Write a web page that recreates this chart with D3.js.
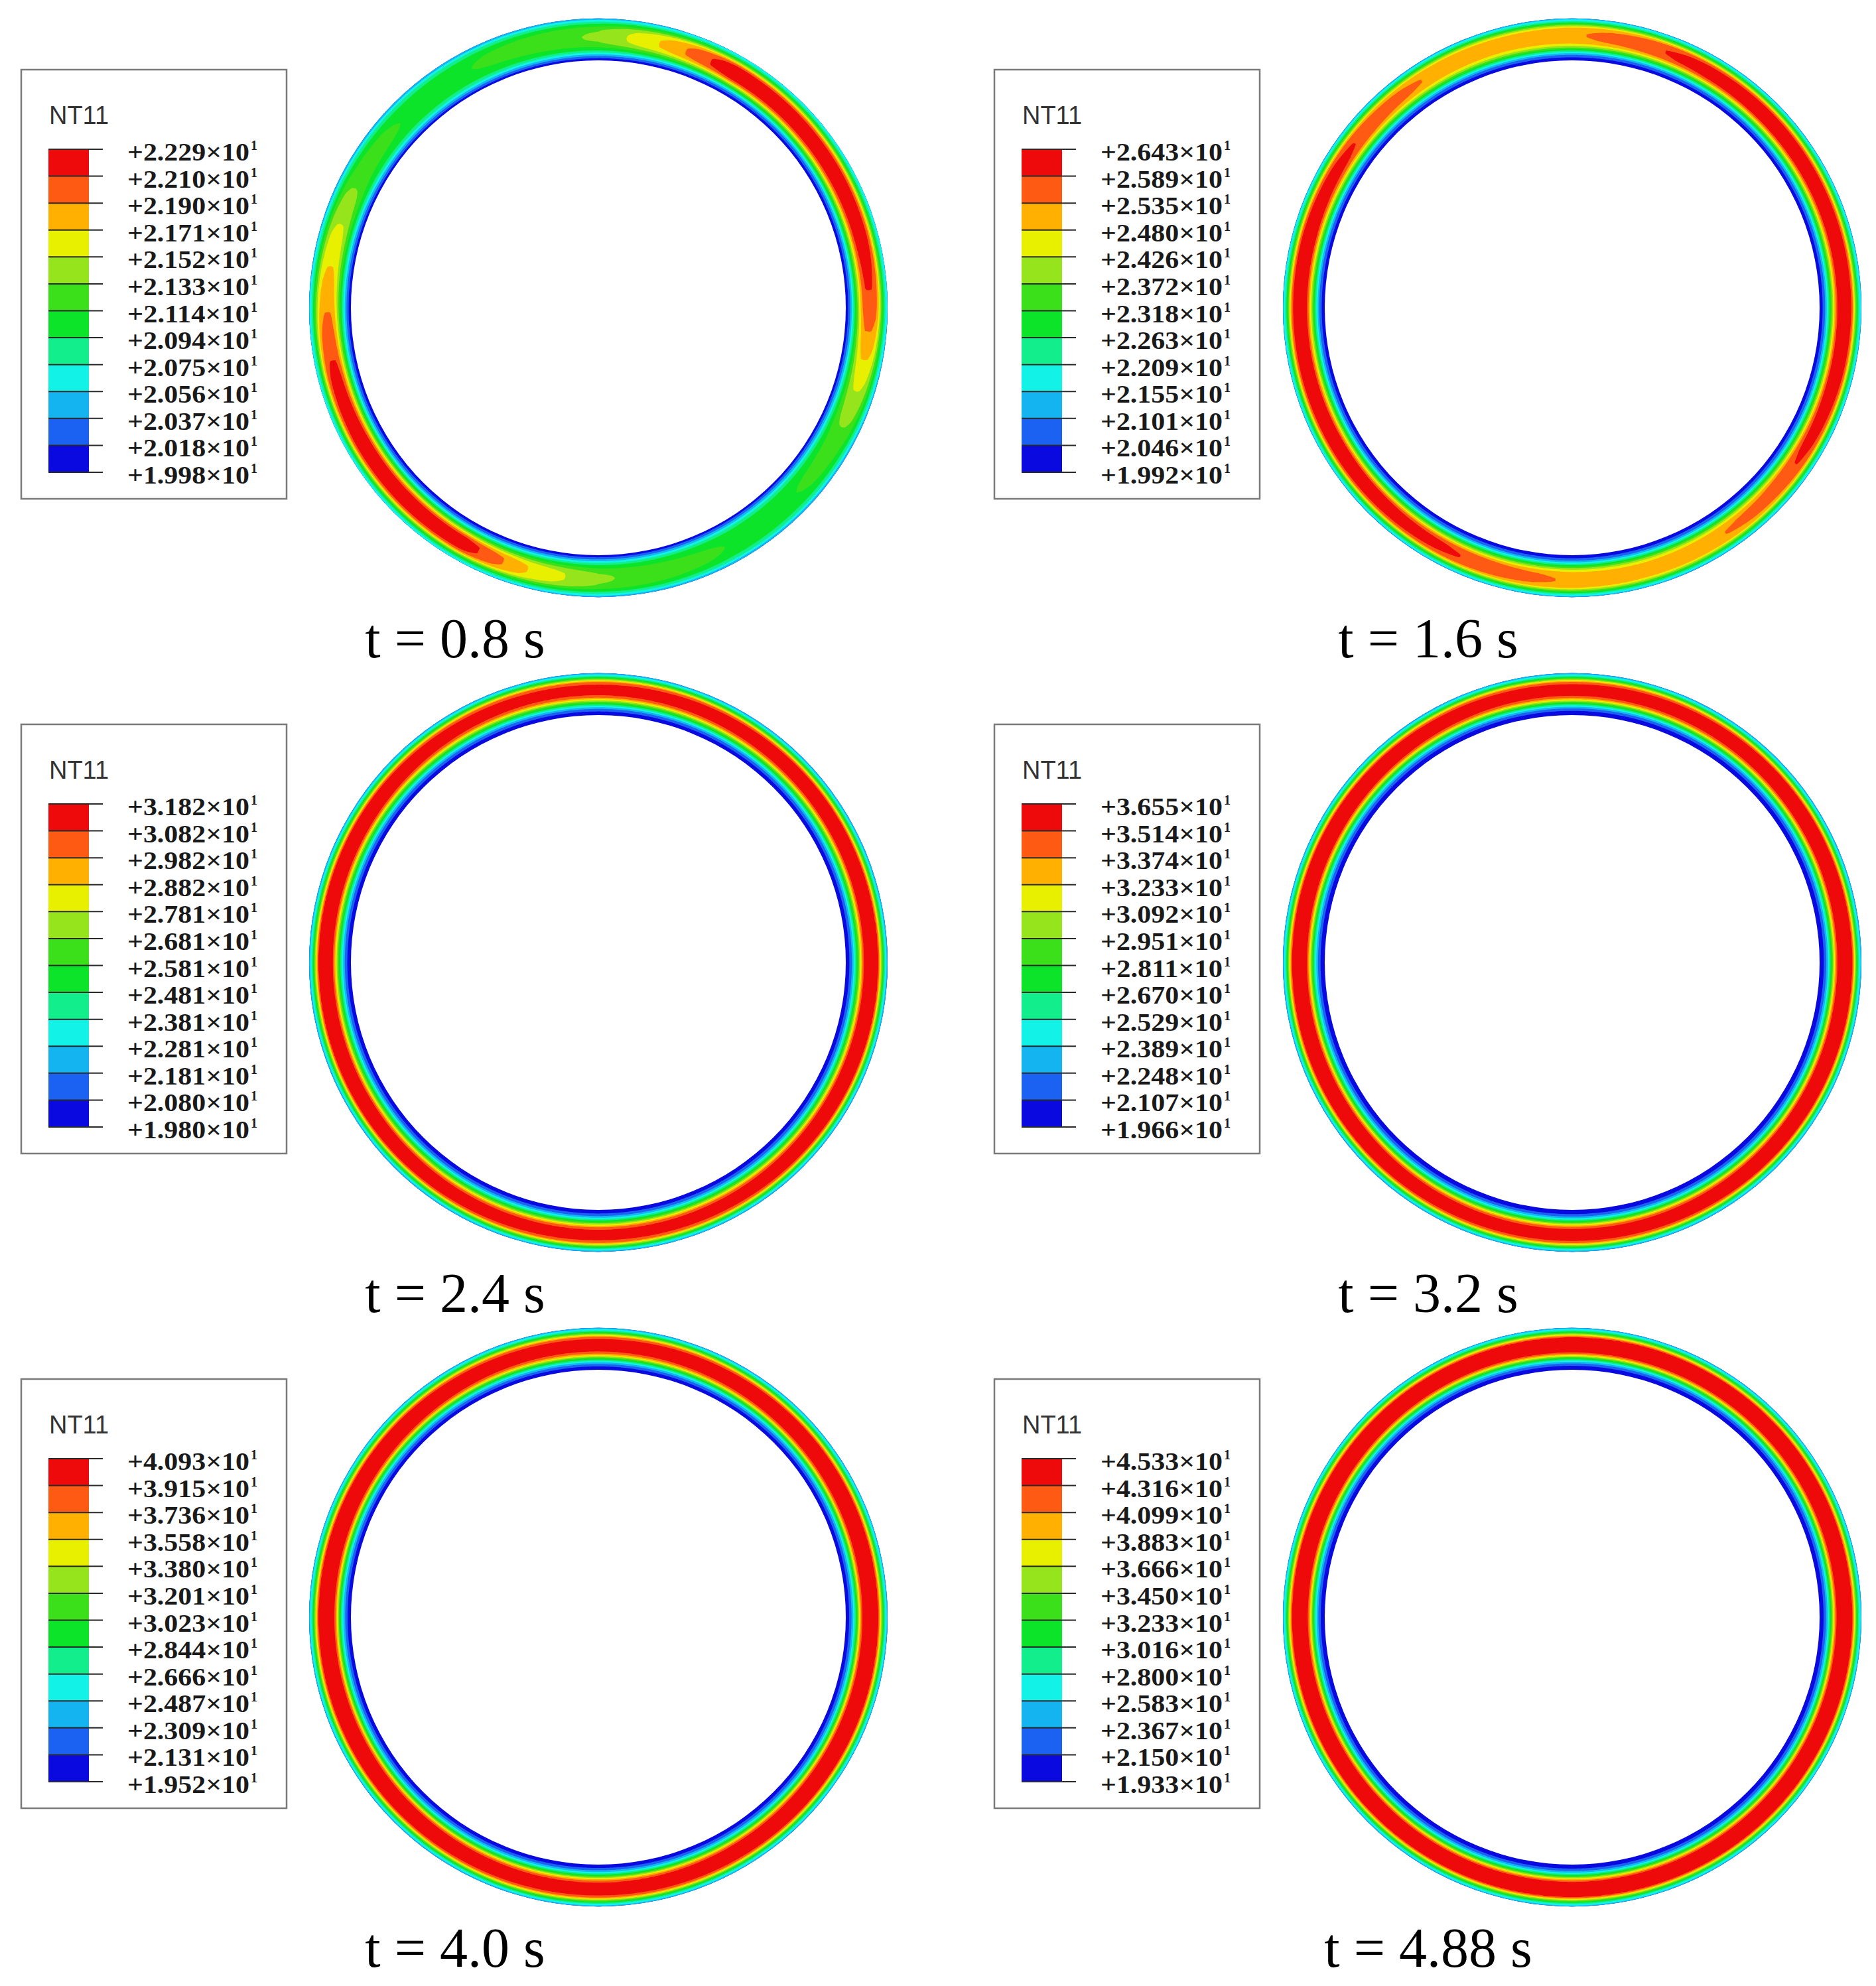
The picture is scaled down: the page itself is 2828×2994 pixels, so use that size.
<!DOCTYPE html>
<html><head><meta charset="utf-8">
<script src="https://cdn.jsdelivr.net/npm/d3@7"></script>
<style>body{margin:0;background:#fff}</style>
</head><body>
<svg id="fig" width="2828" height="2994" xmlns="http://www.w3.org/2000/svg"></svg>
<script>
// ---------------- DATA ----------------
const timeLabels = ["t = 0.8 s", "t = 1.6 s", "t = 2.4 s", "t = 3.2 s", "t = 4.0 s", "t = 4.88 s"];

// legend tick values (mantissa of x10^1), top to bottom
const ticks08  = [2.229, 2.210, 2.190, 2.171, 2.152, 2.133, 2.114, 2.094, 2.075, 2.056, 2.037, 2.018, 1.998];
const ticks16  = [2.643, 2.589, 2.535, 2.480, 2.426, 2.372, 2.318, 2.263, 2.209, 2.155, 2.101, 2.046, 1.992];
const ticks24  = [3.182, 3.082, 2.982, 2.882, 2.781, 2.681, 2.581, 2.481, 2.381, 2.281, 2.181, 2.080, 1.980];
const ticks32  = [3.655, 3.514, 3.374, 3.233, 3.092, 2.951, 2.811, 2.670, 2.529, 2.389, 2.248, 2.107, 1.966];
const ticks40  = [4.093, 3.915, 3.736, 3.558, 3.380, 3.201, 3.023, 2.844, 2.666, 2.487, 2.309, 2.131, 1.952];
const ticks488 = [4.533, 4.316, 4.099, 3.883, 3.666, 3.450, 3.233, 3.016, 2.800, 2.583, 2.367, 2.150, 1.933];

// contour band colours, lowest band first
const bandColors = ["#0a0ae0", "#1c62f2", "#14b4f0", "#12f2e6", "#12ee8c", "#0ce42a", "#3ce01a", "#96e41c", "#e8f000", "#ffb000", "#ff5a14", "#ee0a0a"];

// radial sampling positions through the wall (0 = inner surface, 1 = outer surface)
const rhoNodes = [0, 0.06, 0.12, 0.18, 0.24, 0.30, 0.36, 0.42, 0.48, 0.56, 0.64, 0.72, 0.78, 0.84, 0.90, 0.95, 1.0];
// nodal temperature level (in legend bands, 0..12) through the wall at hottest / coolest angles
const hot08  = [0.4, 1.0, 2.2, 4.0, 6.0, 8.0, 10.0, 11.4, 12, 12, 12, 11.5, 10.2, 7.8, 5.6, 4.0, 3.0];
const cool08 = [0.4, 1.2, 2.5, 3.8, 4.8, 5.3, 5.6, 5.8, 5.9, 5.95, 5.9, 5.8, 5.5, 5.0, 4.3, 3.2, 2.4];
const hot16  = [0.3, 0.8, 1.7, 3.3, 5.2, 7.2, 9.2, 11.0, 11.8, 12, 12, 11.6, 10.6, 8.0, 5.6, 3.8, 2.7];
const cool16 = [0.3, 0.8, 1.7, 3.2, 5.0, 6.8, 8.2, 9.1, 9.45, 9.6, 9.6, 9.4, 8.9, 7.2, 5.2, 3.6, 2.6];
const hot24  = [0.3, 0.7, 1.4, 2.8, 4.6, 6.5, 8.6, 10.8, 11.8, 12, 12, 11.7, 11.0, 8.0, 5.5, 3.5, 2.5];
const cool24 = [0.3, 0.7, 1.4, 2.8, 4.5, 6.3, 8.2, 10.0, 10.8, 11.2, 11.2, 10.8, 10.2, 7.8, 5.4, 3.5, 2.5];
const hot32  = [0.2, 0.6, 1.2, 2.4, 4.2, 6.4, 8.8, 11.0, 11.9, 12, 12, 11.8, 11.2, 8.4, 5.6, 3.6, 2.5];
const cool32 = [0.2, 0.6, 1.2, 2.4, 4.2, 6.2, 8.4, 10.3, 11.0, 11.3, 11.3, 11.0, 10.3, 8.0, 5.4, 3.5, 2.5];
const hot40  = [0.3, 0.7, 1.6, 3.0, 5.0, 7.4, 10.0, 11.6, 12, 12, 12, 11.8, 11.0, 8.2, 5.6, 3.6, 2.6];
const cool40 = [0.3, 0.7, 1.6, 3.0, 4.9, 7.0, 9.2, 10.6, 11.1, 11.3, 11.3, 11.0, 10.2, 7.8, 5.4, 3.5, 2.5];
const hot488 = [0.2, 0.6, 1.3, 2.6, 4.6, 7.0, 9.6, 11.5, 12, 12, 12, 11.8, 11.2, 8.4, 5.8, 3.7, 2.6];
const cool488= [0.2, 0.6, 1.3, 2.6, 4.5, 6.8, 9.2, 11.0, 11.6, 11.8, 11.8, 11.5, 10.8, 8.0, 5.5, 3.6, 2.5];

// angular sampling (degrees, counter-clockwise from +x) and hot-weight at each angle
const angleNodes = [0, 15, 30, 45, 60, 75, 90, 105, 120, 135, 150, 165, 180, 195, 210, 225, 240, 255, 270, 285, 300, 315, 330, 345, 360];
const weight08  = [0.8, 0.95, 1, 1, 1, 0.55, 0.2, 0.1, 0, 0, 0.1, 0.4, 0.65, 0.9, 1, 1, 0.95, 0.5, 0.2, 0.1, 0, 0, 0.1, 0.4, 0.8];
const weight16  = [1, 1, 1, 1, 0.85, 0.45, 0.1, 0, 0.1, 0.4, 0.75, 1, 1, 1, 1, 0.9, 0.7, 0.4, 0.1, 0, 0.1, 0.35, 0.7, 0.95, 1];
const weight24  = [1, 1, 0.95, 0.8, 0.6, 0.4, 0.3, 0.3, 0.45, 0.7, 0.9, 1, 1, 1, 0.95, 0.8, 0.6, 0.4, 0.3, 0.35, 0.5, 0.75, 0.9, 1, 1];
const weight32  = [1, 1, 0.9, 0.7, 0.5, 0.35, 0.25, 0.3, 0.5, 0.75, 0.95, 1, 1, 1, 0.9, 0.7, 0.5, 0.35, 0.3, 0.35, 0.55, 0.8, 0.95, 1, 1];
const weight40  = [1, 1, 0.95, 0.8, 0.55, 0.35, 0.25, 0.3, 0.5, 0.8, 0.95, 1, 1, 1, 0.95, 0.8, 0.55, 0.35, 0.3, 0.4, 0.6, 0.85, 1, 1, 1];
const weight488 = [1, 1, 1, 0.9, 0.75, 0.55, 0.45, 0.5, 0.65, 0.85, 1, 1, 1, 1, 1, 0.9, 0.7, 0.55, 0.5, 0.55, 0.7, 0.9, 1, 1, 1];

const panels = [
  {time: timeLabels[0], ticks: ticks08,  hot: hot08,  cool: cool08,  weight: weight08},
  {time: timeLabels[1], ticks: ticks16,  hot: hot16,  cool: cool16,  weight: weight16},
  {time: timeLabels[2], ticks: ticks24,  hot: hot24,  cool: cool24,  weight: weight24},
  {time: timeLabels[3], ticks: ticks32,  hot: hot32,  cool: cool32,  weight: weight32},
  {time: timeLabels[4], ticks: ticks40,  hot: hot40,  cool: cool40,  weight: weight40},
  {time: timeLabels[5], ticks: ticks488, hot: hot488, cool: cool488, weight: weight488}
];

// ---------------- LAYOUT ----------------
const svg = d3.select("#fig");
const colDX = 1467, rowDY = 987;
const R_OUT = 436, R_IN = 373;
const fmt = d3.format(".3f");

panels.forEach((p, i) => {
  const col = i % 2, row = Math.floor(i / 2);
  const ox = col * colDX, oy = row * rowDY;
  const g = svg.append("g").attr("transform", `translate(${ox},${oy})`);

  // ----- legend -----
  const lg = g.append("g");
  lg.append("rect").attr("x", 32).attr("y", 105).attr("width", 400).attr("height", 647)
    .attr("fill", "#fff").attr("stroke", "#7a7a7a").attr("stroke-width", 2.5);
  lg.append("text").attr("x", 74).attr("y", 187).text("NT11")
    .attr("font-family", "Liberation Sans, Arial, sans-serif").attr("font-size", 38)
    .attr("fill", "#333").attr("textLength", 90).attr("lengthAdjust", "spacingAndGlyphs");

  const yLeg = d3.scaleLinear().domain([0, 12]).range([225, 712]);   // tick index -> y
  const bins = d3.range(12); // 0 = top band
  lg.selectAll("rect.bin").data(bins).join("rect").attr("class", "bin")
    .attr("x", 73).attr("width", 61)
    .attr("y", d => yLeg(d)).attr("height", d => yLeg(d + 1) - yLeg(d))
    .attr("fill", d => bandColors[11 - d]);
  lg.selectAll("line.tk").data(p.ticks).join("line").attr("class", "tk")
    .attr("x1", 73).attr("x2", 155)
    .attr("y1", (d, k) => yLeg(k)).attr("y2", (d, k) => yLeg(k))
    .attr("stroke", "#2a2a2a").attr("stroke-width", 2);
  lg.selectAll("text.lab").data(p.ticks).join("text").attr("class", "lab")
    .attr("x", 192).attr("y", (d, k) => yLeg(k) + 17)
    .text(d => "+" + fmt(d) + "\u00d710")
    .attr("font-family", "Liberation Serif, 'Times New Roman', serif").attr("font-weight", "bold")
    .attr("font-size", 38).attr("fill", "#1a1a1a")
    .attr("textLength", 184).attr("lengthAdjust", "spacingAndGlyphs");
  lg.selectAll("text.sup").data(p.ticks).join("text").attr("class", "sup")
    .attr("x", 378).attr("y", (d, k) => yLeg(k) + 1)
    .text("1")
    .attr("font-family", "Liberation Serif, 'Times New Roman', serif").attr("font-weight", "bold")
    .attr("font-size", 20).attr("fill", "#1a1a1a");

  // ----- ring contour field -----
  const cx = 902 + (col ? 1 : 0), cy = 464;
  const tMax = p.ticks[0] * 10, tMin = p.ticks[12] * 10;
  const levelToT = d3.scaleLinear().domain([0, 12]).range([tMin, tMax]);
  const hotS = d3.scaleLinear().domain(rhoNodes).range(p.hot).clamp(true);
  const coolS = d3.scaleLinear().domain(rhoNodes).range(p.cool).clamp(true);
  const wS = d3.scaleLinear().domain(angleNodes).range(p.weight).clamp(true);
  const rhoS = d3.scaleLinear().domain([R_IN, R_OUT]).range([0, 1]).clamp(true);

  const step = 2;
  const half = R_OUT + 4;
  const n = Math.ceil(2 * half / step) + 1;
  const x0 = cx - half, y0 = cy - half;
  const values = new Float64Array(n * n);
  for (let j = 0; j < n; j++) {
    const dy = y0 + j * step - cy;
    for (let k = 0; k < n; k++) {
      const dx = x0 + k * step - cx;
      const r = Math.sqrt(dx * dx + dy * dy);
      const rho = rhoS(r);
      let th = Math.atan2(-dy, dx) * 180 / Math.PI;
      if (th < 0) th += 360;
      const w = wS(th);
      const c = coolS(rho), h = hotS(rho);
      values[j * n + k] = levelToT(c + w * (h - c));
    }
  }
  const asc = p.ticks.slice().reverse(); // ascending
  const thresholds = [tMin - 100].concat(asc.slice(1, 12).map(v => v * 10));
  const contours = d3.contours().size([n, n]).thresholds(thresholds)(values);
  const proj = d3.geoIdentity().scale(step).translate([x0 - 0.5 * step, y0 - 0.5 * step]);
  const path = d3.geoPath(proj);

  const clipId = "ring" + i;
  const annulus = d3.path();
  annulus.moveTo(cx + R_OUT, cy); annulus.arc(cx, cy, R_OUT, 0, 2 * Math.PI); annulus.closePath();
  annulus.moveTo(cx + R_IN, cy); annulus.arc(cx, cy, R_IN, 0, 2 * Math.PI); annulus.closePath();
  g.append("clipPath").attr("id", clipId)
    .append("path").attr("d", annulus.toString()).attr("clip-rule", "evenodd");
  g.append("g").attr("clip-path", `url(#${clipId})`)
    .selectAll("path").data(contours).join("path")
    .attr("d", path)
    .attr("fill", (d, k) => bandColors[k]);

  // ----- time label -----
  g.append("text").attr("x", 686).attr("y", 991).attr("text-anchor", "middle")
    .text(p.time)
    .attr("font-family", "Liberation Serif, 'Times New Roman', serif")
    .attr("font-size", 84).attr("fill", "#000");
});
</script>
</body></html>
